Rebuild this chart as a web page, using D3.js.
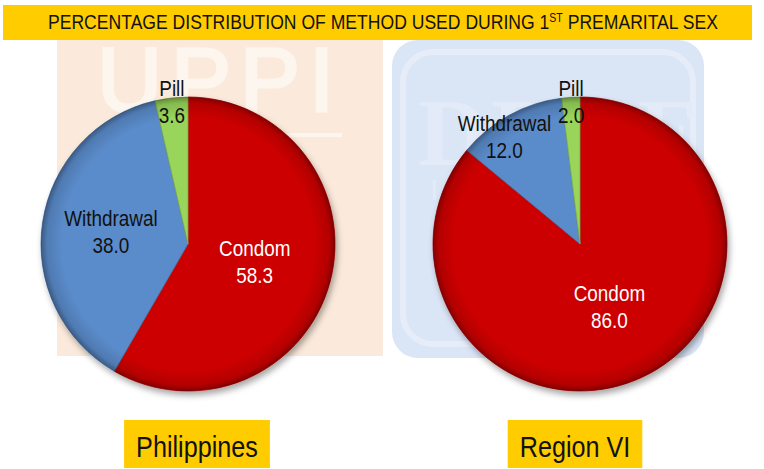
<!DOCTYPE html>
<html>
<head>
<meta charset="utf-8">
<script src="https://cdn.jsdelivr.net/npm/d3@7"></script>
<style>
  body { margin: 0; background: #fff; }
  svg { display: block; font-family: "Liberation Sans", Arial, sans-serif; }
</style>
</head>
<body>
<div id="chart"></div>
<script>
// data
const methods = ["Condom", "Withdrawal", "Pill"];
const philippinesValues = [58.3, 38.0, 3.6];
const regionVIValues = [86.0, 12.0, 2.0];
const areaNames = ["Philippines", "Region VI"];
const titleText = ["PERCENTAGE DISTRIBUTION OF METHOD USED DURING 1", "ST", " PREMARITAL SEX"];

const width = 764, height = 469;
const radius = 147;
const squeeze = 0.86;   // the slide text is a bit condensed

const colorOf = d3.scaleOrdinal()
    .domain(methods)
    .range(["#cc0000", "#5a8bca", "#98d55a"]);
const labelColor = d3.scaleOrdinal()
    .domain(methods)
    .range(["#ffffff", "#111111", "#111111"]);

let svg = d3.select("#chart")
    .append("svg")
    .attr("width", width)
    .attr("height", height);

let defs = svg.append("defs");

// soft drop shadow under the pies
let shadow = defs.append("filter").attr("id", "shadow")
    .attr("x", "-20%").attr("y", "-20%").attr("width", "140%").attr("height", "140%");
shadow.append("feDropShadow")
    .attr("dx", 2).attr("dy", 4).attr("stdDeviation", 3)
    .attr("flood-color", "#000").attr("flood-opacity", 0.35);

// rim darkening to fake the bevel
let rim = defs.append("radialGradient").attr("id", "rim")
    .attr("gradientUnits", "userSpaceOnUse")
    .attr("cx", 0).attr("cy", 0).attr("r", radius);
rim.append("stop").attr("offset", "0.86").attr("stop-color", "#000").attr("stop-opacity", 0);
rim.append("stop").attr("offset", "0.96").attr("stop-color", "#000").attr("stop-opacity", 0.12);
rim.append("stop").attr("offset", "1").attr("stop-color", "#000").attr("stop-opacity", 0.35);

// ---- background logos (watermarks) ----
let bg = svg.append("g");
bg.append("rect").attr("x", 57).attr("y", 40).attr("width", 326).attr("height", 316)
    .attr("fill", "#fbeadb");
bg.append("text")
    .attr("x", 97).attr("y", 111)
    .attr("font-size", 90).attr("letter-spacing", 9)
    .attr("fill", "#fdf6ee").attr("stroke", "#fdf6ee").attr("stroke-width", 3)
    .text("UPPI");
bg.append("line").attr("x1", 280).attr("x2", 342).attr("y1", 135).attr("y2", 135)
    .attr("stroke", "#fdf6ee").attr("stroke-width", 4);

bg.append("rect").attr("x", 392).attr("y", 40).attr("width", 312).attr("height", 318)
    .attr("rx", 26).attr("fill", "#dae5f6");
bg.append("rect").attr("x", 403).attr("y", 52).attr("width", 290).attr("height", 292)
    .attr("rx", 30).attr("fill", "none").attr("stroke", "#e6edf9").attr("stroke-width", 6);
bg.append("text")
    .attr("x", 418).attr("y", 165)
    .attr("font-family", "'Liberation Serif', serif").attr("font-weight", "bold")
    .attr("font-size", 96).attr("letter-spacing", 4)
    .attr("fill", "#e4ebf8")
    .text("DRDF");
bg.append("text")
    .attr("x", 430).attr("y", 200)
    .attr("font-size", 30).attr("fill", "#e4ebf8")
    .text("I");

// ---- title bar ----
svg.append("rect").attr("x", 3).attr("y", 5).attr("width", 749).attr("height", 35)
    .attr("fill", "#ffcc00");
let title = svg.append("text")
    .attr("x", 383).attr("y", 29)
    .attr("text-anchor", "middle")
    .attr("font-size", 20)
    .attr("fill", "#111")
    .attr("textLength", 670)
    .attr("lengthAdjust", "spacingAndGlyphs");
title.append("tspan").text(titleText[0]);
title.append("tspan").attr("font-size", 12).attr("dy", -7).text(titleText[1]);
title.append("tspan").attr("dy", 7).text(titleText[2]);

// ---- pies ----
let pie = d3.pie().sort(null).value(d => d.value);
let arc = d3.arc().innerRadius(0).outerRadius(radius);

// label spot depends on how big the slice is (roughly like Excel best fit)
function labelPos(d) {
    let v = d.data.value;
    let k = v < 5 ? 0.97 : v < 20 ? 0.89 : v < 45 ? 0.53 : 0.47;
    let span = d.endAngle - d.startAngle;
    // medium slices: label leans away from the thin neighbour
    let part = (v >= 5 && v < 20) ? 0.7 : 1;
    let r = k * radius;
    return d3.arc().innerRadius(r).outerRadius(r)
        .centroid({startAngle: d.startAngle, endAngle: d.startAngle + span * part});
}

function drawPie(cx, cy, values, name, tagX) {
    let rows = methods.map((m, i) => ({method: m, value: values[i]}));
    let arcs = pie(rows);

    let g = svg.append("g").attr("transform", `translate(${cx},${cy})`);

    let slices = g.append("g").attr("filter", "url(#shadow)");
    slices.selectAll("path.slice")
        .data(arcs)
        .join("path")
        .attr("class", "slice")
        .attr("d", arc)
        .attr("fill", d => colorOf(d.data.method))
        .attr("stroke", d => d3.color(colorOf(d.data.method)).darker(0.6))
        .attr("stroke-width", 0.8);

    g.selectAll("path.rim")
        .data(arcs)
        .join("path")
        .attr("class", "rim")
        .attr("d", arc)
        .attr("fill", "url(#rim)");

    let labels = g.selectAll("text.lbl")
        .data(arcs)
        .join("text")
        .attr("class", "lbl")
        .attr("text-anchor", "middle")
        .attr("font-size", 22)
        .attr("fill", d => labelColor(d.data.method))
        .attr("transform", d => {
            let c = labelPos(d);
            return `translate(${c[0]},${c[1]}) scale(${squeeze},1)`;
        });
    labels.append("tspan").attr("x", 0).attr("y", -6).text(d => d.data.method);
    labels.append("tspan").attr("x", 0).attr("y", 21).text(d => d3.format(".1f")(d.data.value));

    // area name on a yellow tag below the pie
    let tag = svg.append("g");
    let t = tag.append("text")
        .attr("transform", `translate(${tagX},457) scale(0.84,1)`)
        .attr("text-anchor", "middle")
        .attr("font-size", 30)
        .attr("fill", "#111")
        .text(name);
    let w = t.node().getBBox().width * 0.84;
    tag.insert("rect", "text")
        .attr("x", tagX - w / 2 - 12).attr("y", 420)
        .attr("width", w + 24).attr("height", 48)
        .attr("fill", "#ffcc00");
}

drawPie(188, 244, philippinesValues, areaNames[0], 197);
drawPie(580, 244, regionVIValues, areaNames[1], 575);
</script>
</body>
</html>
